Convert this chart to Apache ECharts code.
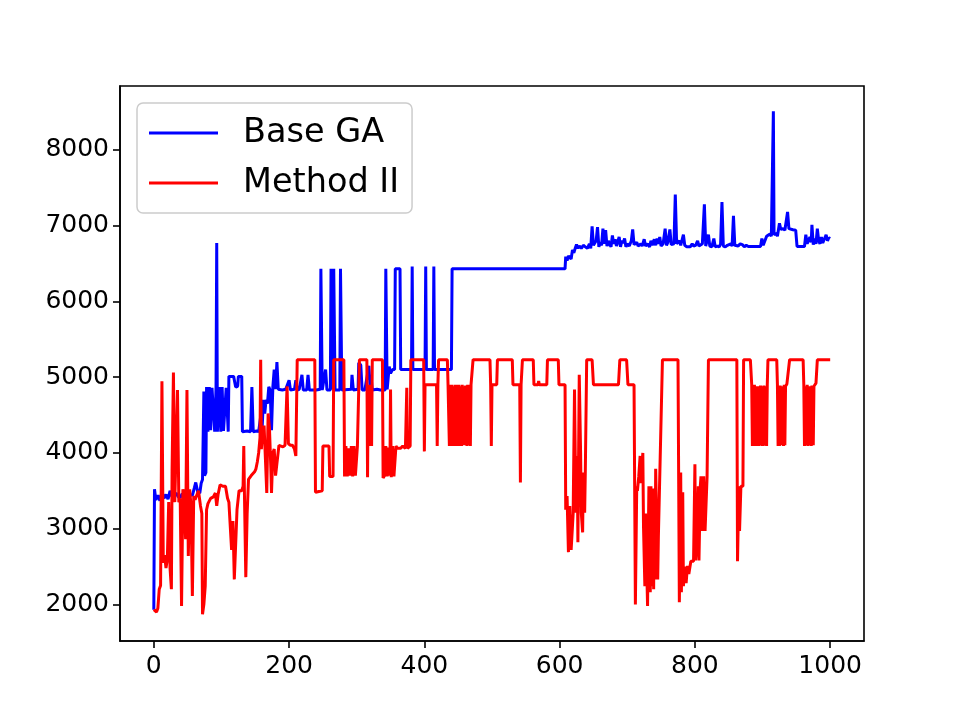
<!DOCTYPE html>
<html>
<head>
<meta charset="utf-8">
<script src="https://cdn.jsdelivr.net/npm/echarts@6/dist/echarts.min.js"></script>
<style>
  html, body { margin: 0; padding: 0; background: #fff; }
  #chart { width: 960px; height: 720px; }
</style>
</head>
<body>
<div id="chart"></div>
<script>
// ticks
var xTicks = [0, 200, 400, 600, 800, 1000];
var yTicks = [2000, 3000, 4000, 5000, 6000, 7000, 8000];
var seriesNames = ['Base GA', 'Method II'];

// Base GA  [generation, fitness]
var baseGA = [
    [0,1930],[1,3520],[3,3380],[6,3440],[9,3370],[12,3480],[15,3400],[18,3450],[21,3390],[24,3500],
    [27,3420],[30,3430],[33,3470],[36,3420],[39,3410],[42,3460],[45,3430],[48,3500],[51,3420],[54,3450],
    [57,3440],[60,3540],[62,3610],[65,3480],[68,3470],[70,3600],[72,3650],[74,4810],[75,3700],[77,3740],
    [78,4870],[80,4280],[82,4870],[84,4300],[86,4860],[88,4870],[90,4280],[92,4870],[93,6770],[94,4280],
    [96,4300],[97,4870],[99,4280],[101,4870],[103,4290],[105,4280],[107,4860],[109,4870],[110,4280],[111,5010],
    [118,5010],[120,4990],[121,4870],[124,4880],[125,5010],[130,5010],[131,4280],[138,4290],[143,4280],[145,4870],
    [147,4280],[152,4290],[155,4280],[158,4480],[160,4300],[162,4700],[164,4520],[166,4700],[168,4650],[170,4870],
    [172,4830],[174,4300],[176,4870],[178,5100],[180,4840],[182,5200],[184,4840],[186,4850],[190,4830],[195,4840],
    [200,4960],[202,4830],[208,4840],[210,4960],[212,4830],[215,4840],[219,5030],[221,4830],[226,4830],[228,5030],
    [230,4830],[240,4830],[246,4840],[247,6430],[249,4830],[254,5100],[256,4830],[261,4830],[262,6430],[264,4840],
    [266,6430],[268,4830],[275,4830],[276,6430],[278,4830],[292,4840],[293,5030],[295,4830],[302,4840],[303,5190],
    [306,5160],[308,4830],[312,4830],[318,5150],[320,4830],[321,5030],[323,4830],[330,4840],[335,4830],[342,4830],
    [343,6430],[345,4840],[348,5140],[350,5050],[353,5100],[356,5100],[357,6430],[364,6430],[365,5100],[381,5100],
    [382,6460],[383,5100],[401,5100],[402,6460],[403,5100],[413,5100],[414,6460],[415,5100],[440,5100],[441,6430],
    [540,6430],[541,6450],[542,6430],[608,6430],[609,6590],[611,6540],[613,6600],[615,6620],[617,6560],[619,6680],
    [621,6640],[623,6700],[625,6750],[627,6700],[629,6730],[632,6700],[635,6740],[638,6720],[641,6700],[644,6760],
    [646,6700],[648,6990],[650,6740],[652,6720],[654,6800],[656,6980],[658,6720],[660,6780],[662,6740],[664,6960],
    [666,6760],[668,6940],[670,6730],[672,6800],[674,6750],[676,6720],[678,6870],[680,6760],[682,6820],[684,6730],
    [686,6740],[688,6850],[690,6720],[692,6800],[694,6770],[696,6830],[698,6720],[700,6760],[703,6730],[706,6800],
    [708,6950],[710,6750],[712,6730],[714,6780],[716,6730],[718,6720],[720,6760],[722,6730],[725,6820],[727,6730],
    [730,6760],[733,6720],[735,6800],[737,6740],[740,6820],[742,6740],[744,6830],[746,6760],[748,6850],[750,6730],
    [753,6760],[756,6960],[758,6740],[760,6780],[763,6950],[765,6750],[767,6730],[769,6760],[771,7410],[773,6760],
    [775,6740],[777,6800],[779,6740],[781,6730],[783,6880],[785,6740],[788,6720],[790,6730],[793,6720],[796,6760],
    [798,6730],[801,6740],[804,6800],[806,6730],[808,6720],[811,6760],[814,7280],[816,6730],[818,6740],[820,6880],
    [822,6730],[825,6720],[828,6830],[830,6720],[833,6730],[836,6720],[838,6760],[840,7310],[842,6730],[845,6720],
    [848,6740],[850,6720],[853,6760],[855,6730],[857,7130],[859,6740],[861,6760],[864,6730],[867,6760],[870,6750],
    [873,6720],[876,6740],[879,6725],[897,6725],[899,6830],[901,6740],[903,6760],[906,6860],[908,6840],[911,6890],
    [913,6860],[916,8510],[917,6880],[920,6900],[922,6860],[925,7030],[927,6950],[930,6960],[933,6940],[935,6930],
    [937,7180],[939,6960],[941,6950],[945,6945],[949,6940],[951,6725],[962,6725],[964,6880],[966,6760],[968,6740],
    [970,6850],[972,6780],[973,7010],[975,6750],[977,6830],[979,6760],[981,6960],[983,6800],[985,6760],[987,6850],
    [989,6770],[991,6790],[994,6880],[996,6800],[998,6840],[1000,6830]
];

// Method II  [generation, fitness]
var methodII = [
    [0,1930],[2,1950],[4,1900],[6,1950],[8,2200],[10,2250],[12,4945],[14,2550],[16,2650],[18,2480],
    [20,2600],[22,3350],[24,2480],[26,2200],[27,3780],[29,5060],[31,3350],[33,3350],[35,4830],[37,3350],
    [39,3400],[41,1980],[43,3520],[45,3400],[47,2860],[49,4830],[51,2640],[53,3520],[55,3300],[57,2110],
    [59,3430],[61,3380],[63,3430],[66,3500],[69,3300],[71,3200],[72,1870],[74,2000],[76,2240],[78,3250],
    [80,3330],[84,3400],[88,3420],[91,3470],[93,3300],[95,3450],[98,3580],[102,3560],[106,3560],[109,3400],
    [111,3350],[113,3330],[115,2720],[117,3100],[119,2330],[121,2330],[123,3250],[126,3500],[130,3500],[132,3560],
    [133,4090],[134,3450],[136,2360],[138,3200],[140,3650],[144,3700],[146,3720],[149,3750],[151,3790],[153,3880],
    [155,4000],[157,4200],[158,5230],[159,4050],[161,4300],[163,4360],[165,3920],[167,3470],[169,4520],[171,4320],
    [173,3800],[174,3470],[176,4000],[178,4050],[180,3700],[182,3680],[185,4100],[188,4090],[191,4080],[194,4100],
    [196,4090],[197,4880],[199,4120],[202,4100],[205,4100],[208,4050],[210,3960],[212,5230],[238,5230],[239,3480],
    [249,3500],[250,4090],[259,4090],[260,3690],[265,3690],[266,5230],[281,5230],[282,3690],[284,4090],[286,3690],
    [288,4060],[290,3700],[292,4090],[294,3690],[296,4090],[298,3700],[301,4090],[303,4090],[304,5230],[315,5230],
    [316,3680],[317,4900],[318,4090],[320,4900],[322,4090],[323,5230],[338,5230],[339,3670],[341,3700],[343,4090],
    [345,3690],[347,4070],[349,3700],[350,4835],[351,3680],[353,4090],[355,3690],[358,4090],[360,4060],[365,4060],
    [368,4090],[372,4060],[374,4860],[375,4060],[379,4090],[380,5230],[399,5230],[400,4020],[401,4900],[410,4900],
    [412,4880],[418,4900],[419,4090],[420,4900],[421,5230],[434,5230],[435,4900],[436,4900],[437,4090],[438,4900],
    [439,4090],[440,4100],[441,4900],[442,4090],[443,4880],[444,4880],[445,4090],[446,4900],[447,4090],[448,4100],
    [449,4900],[450,4090],[451,4900],[452,4090],[453,4880],[454,4900],[455,4090],[456,4900],[457,4100],[458,4090],
    [459,4880],[460,4100],[461,4890],[462,4900],[463,4090],[464,4900],[465,4100],[466,4090],[467,4900],[468,4090],
    [469,4900],[471,4900],[472,5230],[497,5230],[498,4900],[499,4090],
    [500,4900],[507,4900],[508,5230],[530,5230],[531,4900],[541,4900],[542,3610],[543,4900],[545,5230],[561,5230],
    [562,4900],[568,4900],[569,4950],[570,4900],[581,4900],[582,5230],[598,5230],[599,4900],[608,4900],[609,3250],
    [611,3430],[613,2690],[615,3300],[617,2720],[620,3200],[622,4835],[624,3210],[626,3960],[627,2820],[629,5030],
    [631,4000],[632,3210],[634,2950],[635,3740],[637,3210],[638,3780],[640,5230],[648,5230],[650,4900],[687,4900],
    [689,5230],[699,5230],[701,4900],[710,4900],[712,2000],[714,3560],[715,3500],[717,3690],[719,3960],[720,3600],
    [723,4000],[724,3030],[726,2240],[727,3200],[730,1980],[731,2800],[732,3560],[734,2160],[735,3560],[736,2240],
    [738,3530],[739,2200],[740,3530],[741,2330],[742,3790],[743,3790],[745,2330],[746,2900],[752,5230],[775,5230],
    [777,2030],[779,3740],[780,2160],[782,3480],[783,2240],[785,2500],[787,2280],[789,2510],[791,2400],[794,2570],
    [798,2570],[800,3850],[801,2580],[803,2820],[805,3560],[806,2580],[808,3560],[809,3690],[811,2970],[813,3690],
    [815,2970],[818,3690],[820,5230],[862,5230],[863,2570],[865,3560],[866,2970],[868,3560],[871,3560],[872,5230],
    [882,5230],[884,4900],[885,4090],[886,4880],[887,4090],[888,4900],[889,4100],[890,4870],[891,4090],[892,4880],
    [893,4900],[894,4090],[895,4880],[896,4100],[897,4890],[898,4900],[899,4090],[900,4880],[901,4090],[902,4890],
    [903,4900],[904,4100],[905,4880],[906,4090],[907,4900],[908,5230],[921,5230],[922,4900],[923,4090],[924,4880],
    [925,4090],[926,4890],[927,4900],[928,4100],[929,4090],[930,4880],[931,4090],[932,4900],[933,4100],[934,4880],
    [935,4900],[936,4910],[938,4920],[940,5230],
    [960,5230],[961,4900],[962,4090],[963,4880],[964,4100],[965,4090],[966,4900],[967,4090],[968,4880],[969,4880],
    [970,4100],[971,4880],[972,4090],[973,4890],[974,4900],[975,4100],[976,4880],[977,4900],[979,4920],[981,5230],
    [1000,5230]
];

var chart = echarts.init(document.getElementById('chart'));

function axisCommon(ticks, margin){
    return {
        axisLine: { show: true, onZero: false, lineStyle: { color: '#000', width: 1.6 } },
        axisTick: { show: true, length: 7, inside: false, customValues: ticks, lineStyle: { color: '#000', width: 1.6 } },
        axisLabel: {
            customValues: ticks, color: '#000', fontSize: 25, fontFamily: 'DejaVu Sans', margin: margin,
            formatter: function (v) { return String(v); }
        },
        splitLine: { show: false }
    };
}

var xAxis = axisCommon(xTicks, 13);
xAxis.type = 'value';
xAxis.min = -50;
xAxis.max = 1050;

var yAxis = axisCommon(yTicks, 11);
yAxis.type = 'value';
yAxis.min = 1517;
yAxis.max = 8843;

var option = {
    animation: false,
    backgroundColor: '#fff',
    grid: {
        left: 120, right: 96, top: 86, bottom: 79,
        show: true, borderColor: '#000', borderWidth: 1.6, backgroundColor: 'transparent'
    },
    legend: {
        data: seriesNames,
        orient: 'vertical',
        left: 137, top: 103,
        icon: 'rect',
        itemWidth: 69, itemHeight: 3, itemGap: 16,
        padding: [13, 13, 13, 12],
        backgroundColor: 'rgba(255,255,255,0.8)',
        borderColor: '#cccccc', borderWidth: 1.5, borderRadius: 6,
        textStyle: { fontSize: 33.5, color: '#000', fontFamily: 'DejaVu Sans', padding: [0, 0, 0, 20] }
    },
    xAxis: xAxis,
    yAxis: yAxis,
    series: [
        {
            name: seriesNames[0], type: 'line', data: baseGA,
            symbol: 'none', showSymbol: false, clip: true,
            lineStyle: { color: '#0000ff', width: 3 }, itemStyle: { color: '#0000ff' }
        },
        {
            name: seriesNames[1], type: 'line', data: methodII,
            symbol: 'none', showSymbol: false, clip: true,
            lineStyle: { color: '#ff0000', width: 3 }, itemStyle: { color: '#ff0000' }
        }
    ]
};
chart.setOption(option);
</script>
</body>
</html>
